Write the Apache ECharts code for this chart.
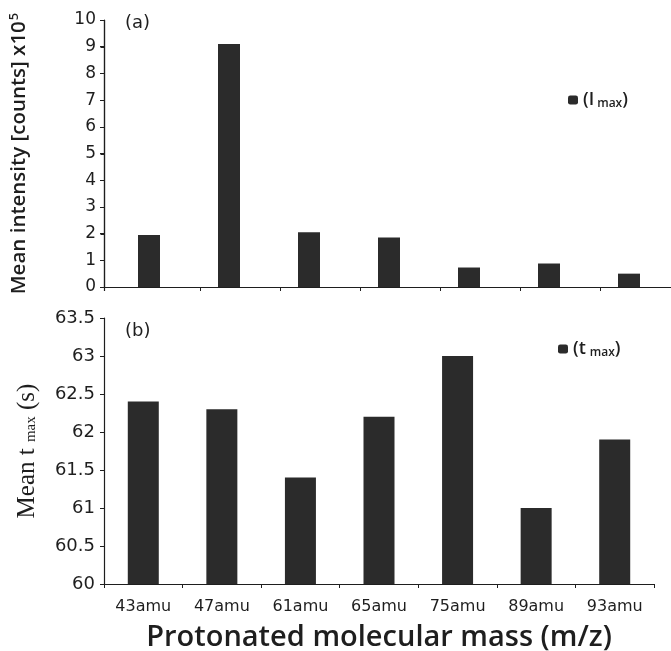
<!DOCTYPE html>
<html>
<head>
<meta charset="utf-8">
<script src="https://cdn.jsdelivr.net/npm/echarts@6/dist/echarts.min.js"></script>
<style>
  html, body { margin: 0; padding: 0; background: #fff; }
  #chart { width: 671px; height: 651px; }
</style>
</head>
<body>
<div id="chart"></div>
<script>
// masses on the shared x axis
const masses = ['43amu', '47amu', '61amu', '65amu', '75amu', '89amu', '93amu']
// (a) mean intensity, x10^5 counts
const intensity = [1.95, 9.1, 2.05, 1.85, 0.73, 0.88, 0.5]
// (b) mean t max, seconds
const tmax = [62.4, 62.3, 61.4, 62.2, 63.0, 61.0, 61.9]
// tick values of the (a) y axis
const ticksA = [0, 1, 2, 3, 4, 5, 6, 7, 8, 9, 10]

const ink = '#1e1e1e'
const barFill = '#2b2b2b'
const sans = 'DejaVu Sans, sans-serif'
const bold = 'Open Sans, sans-serif'
const serif = 'Liberation Serif, Times New Roman, serif'

const chart = echarts.init(document.getElementById('chart'), null, { renderer: 'canvas' })

const line = { show: true, lineStyle: { color: ink, width: 1.2 } }
const tick = { show: true, length: 4, lineStyle: { color: ink } }

chart.setOption({
  animation: false,
  backgroundColor: '#fff',
  title: [
    { text: '(a)', left: 120, top: 9, textStyle: { fontFamily: sans, fontSize: 18, fontWeight: 'normal', color: ink } },
    { text: '(b)', left: 120, top: 317, textStyle: { fontFamily: sans, fontSize: 18, fontWeight: 'normal', color: ink } },
  ],
  legend: [
    {
      data: ['Imax'], left: 563, top: 86, itemWidth: 10, itemHeight: 9, itemGap: 4,
      formatter: () => '{a|(I}{b|max}{a|)}',
      textStyle: {
        rich: {
          a: { fontFamily: bold, fontWeight: 600, fontSize: 18, color: ink },
          b: { fontFamily: bold, fontWeight: 600, fontSize: 12, color: ink, padding: [8, 0, 0, 3] },
        },
      },
    },
    {
      data: ['tmax'], left: 553, top: 335, itemWidth: 10, itemHeight: 9, itemGap: 8,
      formatter: () => '{a|(t}{b|max}{a|)}',
      textStyle: {
        rich: {
          a: { fontFamily: bold, fontWeight: 600, fontSize: 18, color: ink },
          b: { fontFamily: bold, fontWeight: 600, fontSize: 12, color: ink, padding: [8, 0, 0, 4] },
        },
      },
    },
  ],
  // (a) uses two stacked grids: the first carries the frame from x=104 to the edge,
  // the second the bars, whose slots start at x=120 as in the figure
  grid: [
    { left: 104, top: 20, width: 567, height: 267, outerBoundsMode: 'none' },
    { left: 120, top: 20, width: 560, height: 267, outerBoundsMode: 'none' },
    { left: 104, top: 318, width: 550, height: 266, outerBoundsMode: 'none' },
  ],
  xAxis: [
    {
      type: 'category', gridIndex: 0, data: masses,
      axisLine: line, axisTick: { show: false }, axisLabel: { show: false },
    },
    {
      type: 'category', gridIndex: 1, data: masses,
      axisLine: { show: false },
      axisTick: { ...tick, interval: (i) => i !== 0 },
      axisLabel: { show: false },
    },
    {
      type: 'category', gridIndex: 2, data: masses,
      axisLine: line,
      axisTick: tick,
      axisLabel: { fontFamily: sans, fontSize: 16, color: ink, margin: 15 },
      name: 'Protonated molecular mass (m/z)',
      nameLocation: 'middle', nameGap: 39,
      nameTextStyle: { fontFamily: bold, fontWeight: 600, fontSize: 29, color: ink },
    },
  ],
  yAxis: [
    {
      type: 'value', gridIndex: 0, min: 0, max: 10, interval: 1,
      axisLine: line,
      axisTick: tick,
      splitLine: { show: false },
      axisLabel: { fontFamily: sans, fontSize: 17, color: ink, margin: 8 },
      name: '{a|Mean intensity [counts] x10}{s|5}',
      nameLocation: 'middle', nameGap: 74,
      nameTextStyle: {
        rich: {
          a: { fontFamily: bold, fontWeight: 600, fontSize: 20.5, color: ink },
          s: { fontFamily: bold, fontWeight: 600, fontSize: 13, color: ink, padding: [0, 0, 9, 1] },
        },
      },
    },
    {
      type: 'value', gridIndex: 1, min: 0, max: 10, interval: 1,
      axisLine: { show: false }, axisTick: { show: false }, axisLabel: { show: false }, splitLine: { show: false },
    },
    {
      type: 'value', gridIndex: 2, min: 60, max: 63.5, interval: 0.5,
      axisLine: line,
      axisTick: tick,
      splitLine: { show: false },
      axisLabel: { fontFamily: sans, fontSize: 18, color: ink, margin: 9 },
      name: '{a|Mean t }{b|max}{a| (s)}',
      nameLocation: 'middle', nameGap: 64,
      nameTextStyle: {
        rich: {
          a: { fontFamily: serif, fontSize: 25, color: ink },
          b: { fontFamily: serif, fontSize: 15, color: ink, padding: [7, 0, 0, 0] },
        },
      },
    },
  ],
  series: [
    {
      name: 'Imax', type: 'bar', xAxisIndex: 1, yAxisIndex: 1,
      data: intensity, barWidth: 22, barGap: '0%',
      itemStyle: { color: barFill },
    },
    {
      // empty partner series: keeps the (a) bars in the left half of each slot
      name: 'spacer', type: 'bar', xAxisIndex: 1, yAxisIndex: 1,
      data: [], barWidth: 22, barGap: '0%',
    },
    {
      name: 'tmax', type: 'bar', xAxisIndex: 2, yAxisIndex: 2,
      data: tmax, barWidth: 31,
      itemStyle: { color: barFill },
    },
  ],
})

// the (a) y axis line does not come out in this setup, so trace it from the axis scale
const axisX = chart.convertToPixel({ gridIndex: 0 }, [0, 0])
const yTop = chart.convertToPixel({ yAxisIndex: 0 }, 10)
const yBottom = chart.convertToPixel({ yAxisIndex: 0 }, 0)
const x0 = 104.5
const frame = [
  { type: 'line', shape: { x1: x0, y1: yTop, x2: x0, y2: yBottom + 4 }, style: { stroke: ink, lineWidth: 1.2 }, z: 10 },
  ...ticksA.map(v => {
    const y = Math.round(chart.convertToPixel({ yAxisIndex: 0 }, v)) + 0.5
    return { type: 'line', shape: { x1: x0 - 4, y1: y, x2: x0, y2: y }, style: { stroke: ink, lineWidth: 1 }, z: 10 }
  }),
]
chart.setOption({ graphic: frame })
</script>
</body>
</html>
